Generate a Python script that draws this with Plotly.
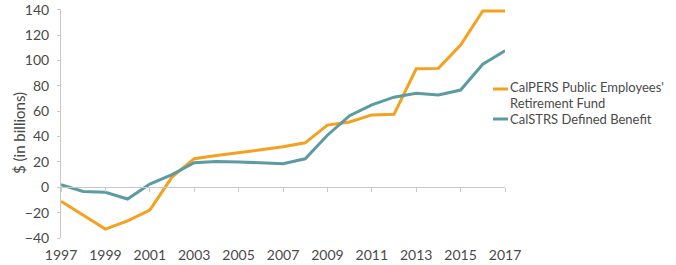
import plotly.graph_objects as go

years = list(range(1997, 2018))
calpers = [-11, -22, -33, -26.5, -18, 8, 22.5, 25, 27, 29.5, 32, 35, 49, 51.5, 57, 57.5, 93.4, 93.7, 112, 139, 139]
calstrs = [2, -3.3, -4, -9.3, 2.5, 10, 19.3, 20.3, 20, 19.3, 18.5, 22.4, 41, 56.4, 65, 71, 74, 72.8, 76.6, 97, 107.5]
tick_years = list(range(1997, 2018, 2))
y_ticks = list(range(-40, 141, 20))
names = [["CalPERS Public Employees'", "Retirement Fund"], ["CalSTRS Defined Benefit"]]

orange = "#F5A11E"
teal = "#5B9BA1"
text_col = "#4A4A4A"
axis_col = "#C8C8C8"
font = "Lato"

L, R, T, B = 61, 171, 9, 27
W, H = 676, 265
pw, ph = W - L - R, H - T - B

fig = go.Figure()
fig.add_trace(go.Scatter(x=years, y=calpers, mode="lines", name=" ".join(names[0]),
                         line=dict(color=orange, width=3), showlegend=False))
fig.add_trace(go.Scatter(x=years, y=calstrs, mode="lines", name=names[1][0],
                         line=dict(color=teal, width=3), showlegend=False))
fig.add_trace(go.Scatter(x=years, y=calstrs, xaxis="x2", mode="lines", line=dict(width=0),
                         showlegend=False, hoverinfo="skip", opacity=0))

ymin, ymax = -40, 140
zero_pos = (0 - ymin) / (ymax - ymin)

def px_x(px):
    return (px - L) / pw

def px_y(py):
    return (H - B - py) / ph

# custom legend
leg = [(names[0], orange, 89, 87.5), (names[1], teal, 119, 119)]
for lines, col, yy, ty in leg:
    fig.add_shape(type="line", xref="paper", yref="paper", x0=px_x(493), x1=px_x(508),
                  y0=px_y(yy), y1=px_y(yy), line=dict(color=col, width=3))
    for i, txt in enumerate(lines):
        fig.add_annotation(xref="paper", yref="paper", x=px_x(509), y=px_y(ty + 15 * i),
                           xanchor="left", yanchor="middle", borderpad=0,
                           text=txt, showarrow=False, align="left",
                           font=dict(family=font, size=13, color=text_col))

fig.add_annotation(xref="paper", yref="paper", x=px_x(19), y=px_y(133), textangle=-90,
                   text="$ (in billions)", showarrow=False, xanchor="center", yanchor="middle",
                   font=dict(family=font, size=15, color=text_col))

fig.update_layout(
    width=W, height=H,
    margin=dict(l=L, r=R, t=T, b=B, autoexpand=False),
    paper_bgcolor="white", plot_bgcolor="white",
    font=dict(family=font, size=13, color=text_col),
    showlegend=False,
    xaxis=dict(range=[1997, 2017], anchor="free", position=zero_pos, showline=True, linecolor=axis_col,
               linewidth=1, ticks="outside", ticklen=4, tickcolor=axis_col, tickvals=tick_years,
               showticklabels=False, showgrid=False, zeroline=False),
    xaxis2=dict(range=[1997, 2017], overlaying="x", anchor="y", side="bottom", showline=False,
                ticks="outside", ticklen=4, tickcolor="rgba(0,0,0,0)", tickvals=tick_years,
                ticktext=[str(v) for v in tick_years],
                showgrid=False, zeroline=False, tickfont=dict(family=font, size=14, color=text_col)),
    yaxis=dict(range=[ymin, ymax + 0.5], tickvals=y_ticks, showline=True, linecolor=axis_col, linewidth=1,
               ticks="outside", ticklen=3, tickcolor=axis_col, showgrid=False, zeroline=False,
               ticklabelstandoff=5,
               tickfont=dict(family=font, size=14, color=text_col)),
)

fig.write_html("out.html")
